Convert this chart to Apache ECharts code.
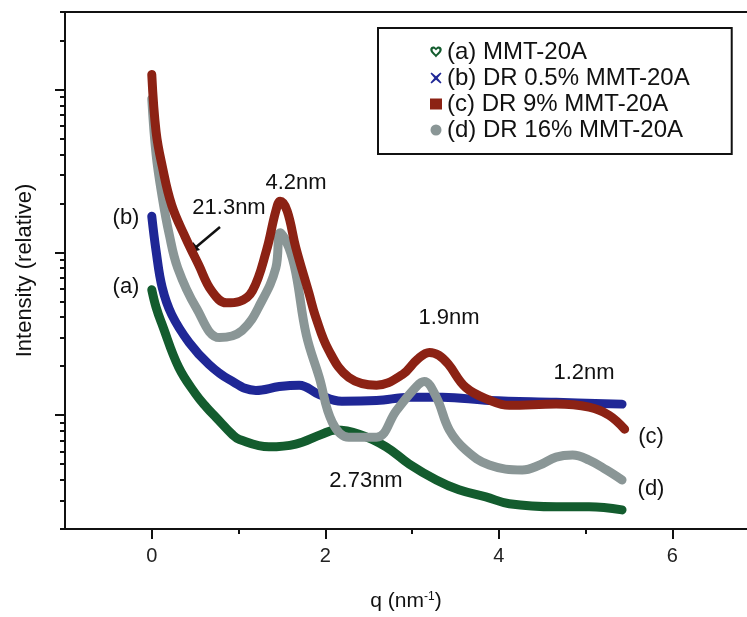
<!DOCTYPE html>
<html><head><meta charset="utf-8">
<script src="https://cdn.jsdelivr.net/npm/echarts@6/dist/echarts.min.js"></script>
<style>html,body{margin:0;padding:0;background:#fff}#c{width:747px;height:617px}</style>
</head><body><div id="c"></div>
<script>
// ---- data (q in nm^-1, intensity relative) ----
const seriesNames = ['(a) MMT-20A', '(b) DR 0.5% MMT-20A', '(c) DR 9% MMT-20A', '(d) DR 16% MMT-20A'];

const qA = [0, 0.05, 0.12, 0.31, 0.51, 0.63, 0.74, 0.93, 1.01, 1.35, 1.66, 1.96, 2.12, 2.39, 2.70, 2.97, 3.28, 3.54, 3.85, 4.12, 4.66, 5.04, 5.42];
const iA = [5.9, 4.6, 3.6, 1.97, 1.34, 1.12, 0.97, 0.76, 0.71, 0.64, 0.665, 0.765, 0.81, 0.765, 0.64, 0.50, 0.40, 0.348, 0.315, 0.286, 0.274, 0.274, 0.262];

const qB = [0, 0.05, 0.12, 0.23, 0.43, 0.66, 0.89, 1.20, 1.47, 1.70, 1.93, 2.19, 2.59, 2.97, 3.35, 3.89, 4.66, 5.42];
const iB = [16.7, 10.2, 6.1, 4.15, 2.8, 2.05, 1.66, 1.42, 1.50, 1.53, 1.34, 1.22, 1.23, 1.29, 1.29, 1.23, 1.20, 1.17];

const qC = [0, 0.05, 0.12, 0.23, 0.39, 0.54, 0.69, 0.86, 1.01, 1.16, 1.32, 1.43, 1.48, 1.56, 1.66, 1.81, 1.89, 2.04, 2.27, 2.59, 2.89, 3.06, 3.20, 3.31, 3.42, 3.62, 3.89, 4.12, 4.66, 5.04, 5.27, 5.45];
const iC = [124, 55, 34, 19.5, 12.3, 8.4, 5.8, 4.9, 5.0, 5.8, 10.2, 18, 20.6, 18, 10.7, 5.65, 4.0, 2.5, 1.71, 1.53, 1.78, 2.2, 2.43, 2.33, 2.05, 1.48, 1.24, 1.15, 1.17, 1.12, 1.0, 0.82];

const qD = [0, 0.05, 0.12, 0.20, 0.30, 0.51, 0.78, 1.04, 1.27, 1.43, 1.48, 1.58, 1.66, 1.78, 1.93, 2.08, 2.27, 2.59, 2.82, 3.05, 3.14, 3.28, 3.43, 3.62, 3.89, 4.27, 4.47, 4.66, 4.85, 5.04, 5.24, 5.42];
const iD = [88, 40, 22, 13, 8.0, 4.6, 3.0, 3.31, 5.05, 8.04, 13.2, 10.7, 7.5, 3.13, 1.71, 0.906, 0.733, 0.733, 1.07, 1.50, 1.61, 1.29, 0.81, 0.61, 0.494, 0.461, 0.494, 0.553, 0.57, 0.53, 0.461, 0.40];

const xMajorTicks = [0, 2, 4, 6];
const xMinorTicks = [1, 3, 5];
const yMajorTicks = [1, 10, 100];
const yMinorTicks = [0.2,0.3,0.4,0.5,0.6,0.7,0.8,0.9, 2,3,4,5,6,7,8,9, 20,30,40,50,60,70,80,90, 200,300];

const annotations = [
  {text: '4.2nm', x: 296, y: 183},
  {text: '21.3nm', x: 229, y: 208},
  {text: '1.9nm', x: 449, y: 318},
  {text: '1.2nm', x: 584, y: 373},
  {text: '2.73nm', x: 366, y: 481},
  {text: '(b)', x: 126, y: 218},
  {text: '(a)', x: 126, y: 287},
  {text: '(c)', x: 651, y: 437},
  {text: '(d)', x: 651, y: 489}
];

// ---- styling ----
const FONT = '"Liberation Sans", Arial, Helvetica, sans-serif';
const colors = ['#135c2e', '#1f2796', '#8c2214', '#8a9696'];
const AX = '#111';
const X_MIN = -1, X_MAX = 6.86, Y_MIN = 0.2, Y_MAX = 300;

const zip = (q, v) => q.map((x, i) => [x, v[i]]);
const dataSets = [zip(qA, iA), zip(qB, iB), zip(qC, iC), zip(qD, iD)];
const icons = [
  'path://M0,3 C0,0 4,-0.5 5,2 C6,-0.5 10,0 10,3 C10,6 6,8 5,10 C4,8 0,6 0,3 Z M5,7.3 C6,6 8,5 8,3.4 C8,2 6.5,1.8 5,3.9 C3.5,1.8 2,2 2,3.4 C2,5 4,6 5,7.3 Z',
  'path://M1,0 L5,3.5 L9,0 L10,1 L6.5,5 L10,9 L9,10 L5,6.5 L1,10 L0,9 L3.5,5 L0,1 Z',
  'rect',
  'circle'
];

const drawOrder = [0, 1, 3, 2];
const series = drawOrder.map(k => ({
  name: seriesNames[k],
  type: 'line',
  xAxisIndex: 0, yAxisIndex: 0,
  data: dataSets[k],
  showSymbol: false,
  smooth: 0.4,
  color: colors[k],
  lineStyle: {width: 9, color: colors[k], cap: 'round', join: 'round'},
  emphasis: {disabled: true},
  silent: true,
  animation: false
}));

const graphic = annotations.map(a => ({
  type: 'text', x: a.x, y: a.y, silent: true,
  style: {text: a.text, fill: '#111', font: '22px ' + FONT, textAlign: 'center', textVerticalAlign: 'middle'}
}));
graphic.push({type: 'line', silent: true, shape: {x1: 220, y1: 227, x2: 195, y2: 248}, style: {stroke: '#111', lineWidth: 2.5}});
graphic.push({type: 'polygon', silent: true, shape: {points: [[189, 253], [200, 250], [193, 242]]}, style: {fill: '#111'}});

const axisLineStyle = {color: AX, width: 2};
const option = {
  animation: false,
  backgroundColor: '#fff',
  grid: {left: 65, right: 0, top: 12, bottom: 85, containLabel: false},
  legend: {
    orient: 'vertical', left: 378, top: 28,
    padding: [12, 42, 12, 52], itemGap: 2, itemWidth: 12, itemHeight: 11,
    borderColor: '#111', borderWidth: 2, backgroundColor: '#fff',
    selectedMode: false,
    textStyle: {fontSize: 24, color: '#111', fontFamily: FONT},
    data: seriesNames.map((n, k) => ({name: n, icon: icons[k]}))
  },
  xAxis: [
    {
      type: 'value', min: X_MIN, max: X_MAX, position: 'bottom',
      name: '{n|q (nm}{s|-1}{n|)}', nameLocation: 'middle', nameGap: 62,
      nameTextStyle: {rich: {n: {fontSize: 21, color: '#111', fontFamily: FONT}, s: {fontSize: 12, color: '#111', fontFamily: FONT, verticalAlign: 'top'}}},
      axisLine: {show: true, onZero: false, lineStyle: axisLineStyle},
      axisTick: {show: true, customValues: xMajorTicks, length: 10, lineStyle: axisLineStyle},
      axisLabel: {customValues: xMajorTicks, margin: 17, fontSize: 20, color: '#222', fontFamily: FONT},
      splitLine: {show: false}
    },
    {
      type: 'value', min: X_MIN, max: X_MAX, position: 'bottom',
      axisLine: {show: false, onZero: false},
      axisTick: {show: true, customValues: xMinorTicks, length: 5, lineStyle: axisLineStyle},
      axisLabel: {show: false}, splitLine: {show: false}
    },
    {
      type: 'value', min: X_MIN, max: X_MAX, position: 'top',
      axisLine: {show: true, onZero: false, lineStyle: axisLineStyle},
      axisTick: {show: false}, axisLabel: {show: false}, splitLine: {show: false}
    }
  ],
  yAxis: [
    {
      type: 'log', logBase: 10, min: Y_MIN, max: Y_MAX, position: 'left',
      name: 'Intensity (relative)', nameLocation: 'middle', nameGap: 29,
      nameTextStyle: {fontSize: 22, color: '#111', fontFamily: FONT},
      axisLine: {show: true, onZero: false, lineStyle: axisLineStyle},
      axisTick: {show: true, customValues: yMajorTicks, length: 10, lineStyle: axisLineStyle},
      axisLabel: {show: false}, splitLine: {show: false}
    },
    {
      type: 'log', logBase: 10, min: Y_MIN, max: Y_MAX, position: 'left',
      axisLine: {show: false, onZero: false},
      axisTick: {show: true, customValues: yMinorTicks, length: 5, lineStyle: axisLineStyle},
      axisLabel: {show: false}, splitLine: {show: false}
    }
  ],
  series: series,
  graphic: graphic
};

const chart = echarts.init(document.getElementById('c'), null, {renderer: 'canvas'});
chart.setOption(option);
</script>
</body></html>
